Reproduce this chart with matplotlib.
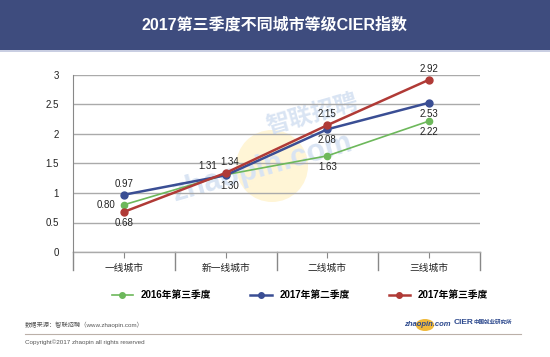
import matplotlib.pyplot as plt
from matplotlib.patches import Rectangle, Circle, Ellipse
from matplotlib.lines import Line2D
import matplotlib.transforms as mtransforms

plt.rcParams['font.family'] = ['Liberation Sans', 'Noto Sans CJK SC', 'DejaVu Sans']

# data
cities = ['一线城市', '新一线城市', '二线城市', '三线城市']
series_names = ['2016年第三季度', '2017年第二季度', '2017年第三季度']
q3_2016 = [0.80, 1.31, 1.63, 2.22]
q2_2017 = [0.97, 1.30, 2.08, 2.53]
q3_2017 = [0.68, 1.34, 2.15, 2.92]
yticks = [0, 0.5, 1, 1.5, 2, 2.5, 3]
ytick_labels = ['0', '0.5', '1', '1.5', '2', '2.5', '3']

W, H = 550, 357
fig = plt.figure(figsize=(W / 100, H / 100), dpi=100)
fig.patch.set_facecolor('white')

# title banner
fig.patches.append(Rectangle((0, 1 - 50 / H), 1, 50 / H, transform=fig.transFigure,
                             facecolor='#3E4C7E', edgecolor='none', zorder=0))
fig.patches.append(Rectangle((0, 1 - 52 / H), 1, 2 / H, transform=fig.transFigure,
                             facecolor='#C9CEE2', edgecolor='none', zorder=0))
fig.text(0.5, 1 - 25 / H, '2017第三季度不同城市等级CIER指数', color='white',
         fontsize=11.5, fontweight='bold', ha='center', va='center')

ax = fig.add_axes([73 / W, (H - 252) / H, 407 / W, 177 / H])
ax.patch.set_alpha(0)
ax.set_zorder(2)
x = list(range(len(cities)))

# watermark (on the figure, behind the axes)
fig.patches.append(Ellipse((272 / W, 1 - 166 / H), 72 / W, 72 / H, transform=fig.transFigure,
                           facecolor='#FFF5D6', edgecolor='none', zorder=0))
fig.text(262 / W, 1 - 168 / H, 'zhaopin.com', color='#D9E4F3', fontsize=22, fontweight='bold',
         rotation=16, ha='center', va='center', zorder=0.5)
fig.text(312 / W, 1 - 115 / H, '智联招聘', color='#D9E4F3', fontsize=17, fontweight='bold',
         rotation=16, ha='center', va='center', zorder=0.5)

green, blue, red = '#6DB85B', '#3A4E94', '#B03A36'
ax.plot(x, q3_2016, color=green, lw=1.2, marker='o', ms=4.5, zorder=3)
ax.plot(x, q2_2017, color=blue, lw=1.8, marker='o', ms=5, zorder=4)
ax.plot(x, q3_2017, color=red, lw=1.8, marker='o', ms=5, zorder=5)

fs = 7
# data labels (offsets in points)
offs_green = [(-13, 0), (-13, 6), (0, -8), (0, -8)]
offs_blue = [(0, 8), (3, -8), (0, -8), (0, -8)]
offs_red = [(0, -8), (3, 8), (0, 8), (0, 8)]
for vals, offs in [(q3_2016, offs_green), (q2_2017, offs_blue), (q3_2017, offs_red)]:
    for xi, v, (dx, dy) in zip(x, vals, offs):
        ax.annotate(f'{v:.2f}', (xi, v), xytext=(dx, dy), textcoords='offset points',
                    ha='center', va='center', fontsize=fs, color='#222222', zorder=6)

ax.set_xlim(-0.5, 3.5)
ax.set_ylim(0, 3)
ax.set_yticks(yticks)
ax.set_yticklabels(ytick_labels, fontsize=fs, color='#222222')
ax.set_xticks(x)
ax.set_xticklabels(cities, fontsize=fs, color='#222222')
ax.tick_params(axis='y', length=0, pad=10)
ax.tick_params(axis='x', length=4, color='#888888', pad=4)
ax.yaxis.grid(True, color='#AAAAAA', lw=1)
ax.set_axisbelow(True)
for s in ['top', 'right', 'bottom']:
    ax.spines[s].set_visible(False)
ax.spines['left'].set_color('#888888')
ax.spines['left'].set_bounds(3, 0)

# category separators extending under the axis
trans = mtransforms.blended_transform_factory(ax.transData, ax.transAxes)
for b in [-0.5, 0.5, 1.5, 2.5, 3.5]:
    ax.add_line(Line2D([b, b], [0, -0.1], transform=trans, color='#888888',
                       lw=1, clip_on=False))
ax.add_line(Line2D([-0.5, 3.5], [0, 0], transform=trans, color='#AAAAAA', lw=1, clip_on=False))

# legend
handles = [Line2D([], [], color=c, lw=lw, marker='o', ms=4) for c, lw in
           [(green, 1.2), (blue, 1.8), (red, 1.8)]]
fig.legend(handles, series_names, loc='center', bbox_to_anchor=(300 / W, 1 - 295 / H),
           ncol=3, frameon=False, columnspacing=4, handlelength=2.2,
           prop={'size': 7, 'weight': 'bold'})

# footer
fig.text(25 / W, 1 - 325 / H, '数据来源：智联招聘（www.zhaopin.com）', fontsize=4.5,
         color='#555555', va='center')
fig.add_artist(Line2D([25 / W, 521 / W], [1 - 334 / H, 1 - 334 / H], color='#BBB0A8', lw=0.8))
fig.text(25 / W, 1 - 342 / H, 'Copyright©2017 zhaopin all rights reserved', fontsize=4.5,
         color='#555555', va='center')

# logos
fig.patches.append(Circle((425 / W, 1 - 325 / H), 6 / H, transform=fig.transFigure,
                          facecolor='#F0B93A', edgecolor='none'))
fig.text(404 / W, 1 - 324 / H, 'zhaopin.com', fontsize=5.5, fontweight='bold',
         color='#2E4A8E', va='center', style='italic')
fig.text(454 / W, 1 - 323 / H, 'CIER', fontsize=6, fontweight='bold',
         color='#2E4A8E', va='center')
fig.text(474 / W, 1 - 322 / H, '中国就业研究所', fontsize=4, fontweight='bold',
         color='#2E4A8E', va='center')

fig.savefig('out.png', dpi=100)
